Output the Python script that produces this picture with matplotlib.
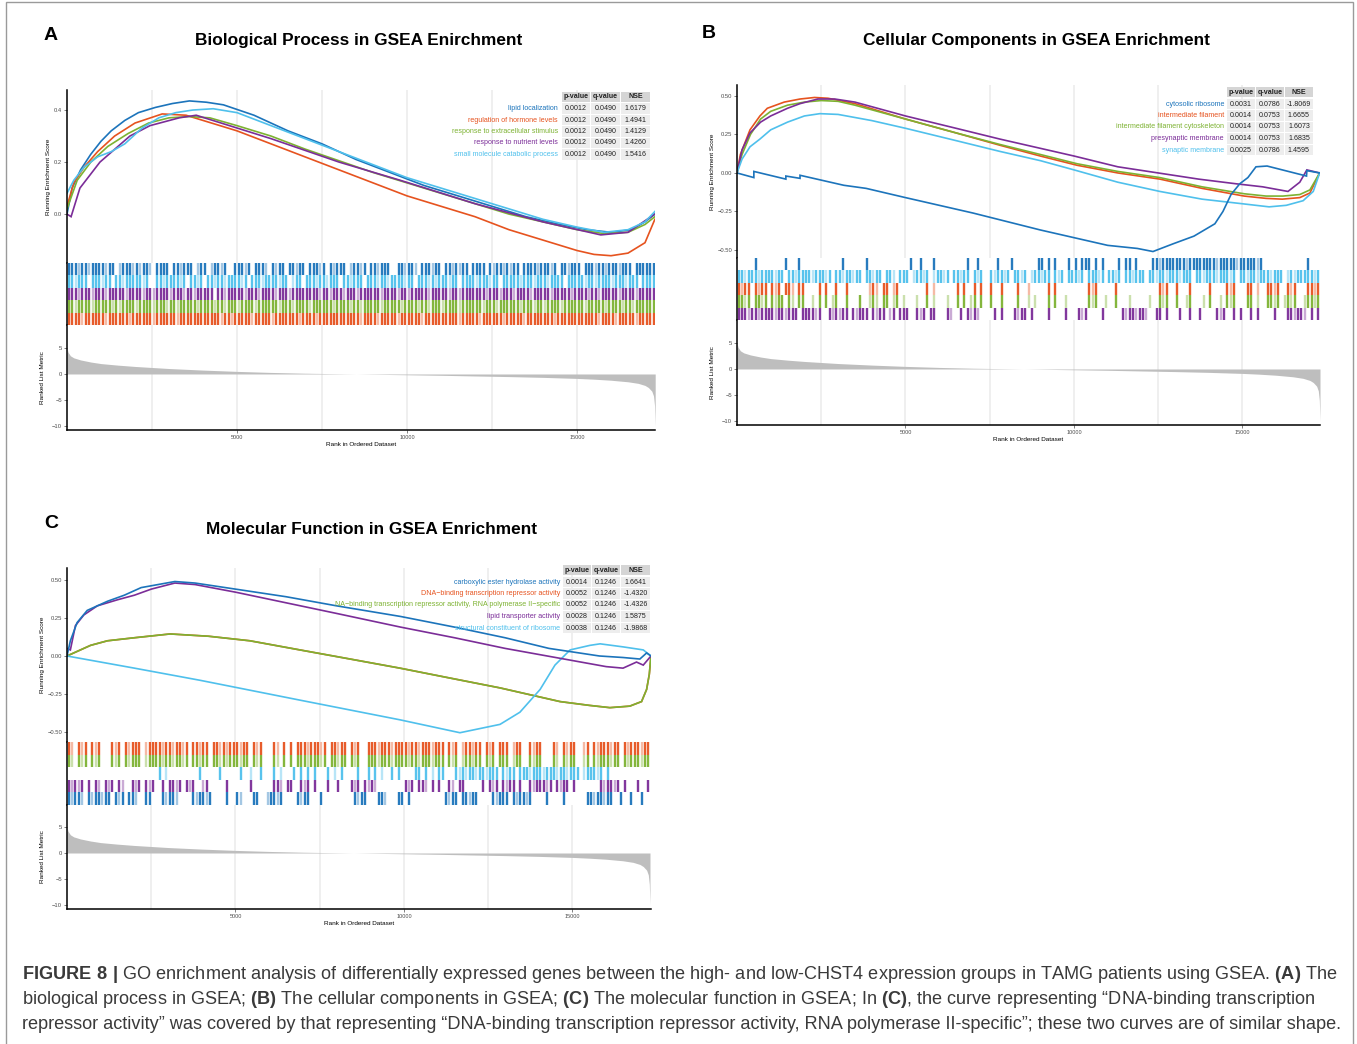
import matplotlib
matplotlib.use("Agg")
import matplotlib.pyplot as plt
from matplotlib.patches import Rectangle
from matplotlib import font_manager

W, H = 1357, 1044
NBIN = 173          # hit strings: one character per 100 ranks ('|' hit, ':' faint hit)
BIN = 100

BLUE, ORANGE, GREEN, PURPLE, LIGHT = "#1c74bb", "#e6531f", "#7db232", "#7b2d98", "#4fc0ec"

# ---------------- ranked list metric (same ranking in all panels)
METRIC_RANK = [0, 30, 100, 200, 400, 700, 1000, 1500, 2000, 2500, 3000, 4000, 5000, 6000,
               7000, 8000, 8500, 9000, 10000, 11000, 12000, 13000, 14000, 15000, 15500,
               16000, 16500, 16800, 17000, 17100, 17200, 17250, 17280, 17300]
METRIC_VAL = [5.0, 4.2, 3.5, 3.1, 2.7, 2.3, 2.0, 1.7, 1.45, 1.25, 1.05, 0.75, 0.5, 0.3,
              0.15, 0.05, 0.0, -0.05, -0.15, -0.25, -0.38, -0.5, -0.65, -0.85, -1.0,
              -1.2, -1.5, -1.8, -2.2, -2.6, -3.3, -4.2, -6.0, -10.0]

# ---------------- panel A : biological process
A_NAMES = ["lipid localization", "regulation of hormone levels",
           "response to extracellular stimulus", "response to nutrient levels",
           "small molecule catabolic process"]
A_COLORS = [BLUE, ORANGE, GREEN, PURPLE, LIGHT]
A_P = [0.0012, 0.0012, 0.0012, 0.0012, 0.0012]
A_Q = [0.0490, 0.0490, 0.0490, 0.0490, 0.0490]
A_NSE = [1.6179, 1.4941, 1.4129, 1.4260, 1.5416]

A_BLUE_X = [0, 150, 400, 700, 1000, 1300, 1700, 2100, 2600, 3100, 3600, 4100, 4600, 5500, 6500,
            7500, 8500, 9500, 10500, 11500, 12500, 13500, 14500, 15300, 16000, 16600, 17000, 17290]
A_BLUE_Y = [0.0, 0.10, 0.17, 0.23, 0.28, 0.32, 0.36, 0.39, 0.41, 0.425, 0.435, 0.43, 0.42, 0.38,
            0.32, 0.27, 0.21, 0.16, 0.11, 0.07, 0.03, -0.01, -0.04, -0.06, -0.07, -0.06, -0.03, 0.0]
A_ORANGE_X = [0, 200, 500, 900, 1400, 2000, 2800, 3500, 5000, 7000, 9000, 10000, 11000, 12000,
              13000, 14000, 15000, 15500, 16000, 16500, 17000, 17290]
A_ORANGE_Y = [0.03, 0.12, 0.18, 0.24, 0.30, 0.35, 0.385, 0.38, 0.32, 0.22, 0.12, 0.07, 0.03,
              -0.01, -0.06, -0.10, -0.14, -0.155, -0.16, -0.15, -0.11, -0.02]
A_GREEN_X = [0, 300, 700, 1200, 1800, 2400, 3000, 3600, 4200, 5000, 6000, 7000, 8000, 9000,
             10000, 11000, 12000, 13000, 14000, 15000, 15800, 16500, 17000, 17290]
A_GREEN_Y = [0.02, 0.13, 0.20, 0.26, 0.31, 0.35, 0.37, 0.375, 0.37, 0.34, 0.30, 0.25, 0.205,
             0.16, 0.12, 0.08, 0.04, 0.0, -0.03, -0.06, -0.075, -0.07, -0.04, -0.01]
A_PURPLE_X = [0, 120, 380, 970, 1850, 2440, 3300, 3800, 6000, 8000, 9800, 12000, 14000, 15700,
              16500, 17290]
A_PURPLE_Y = [0.0, -0.01, 0.10, 0.20, 0.30, 0.34, 0.37, 0.38, 0.29, 0.20, 0.13, 0.04, -0.03,
              -0.08, -0.07, 0.0]
A_LIGHT_X = [0, 200, 500, 900, 1300, 1700, 2200, 2700, 3200, 3700, 4300, 5000, 6000, 7000, 8000,
             9000, 10000, 11000, 12000, 13000, 14000, 15000, 15800, 16500, 17000, 17290]
A_LIGHT_Y = [0.08, 0.13, 0.18, 0.22, 0.24, 0.27, 0.33, 0.37, 0.39, 0.40, 0.405, 0.39, 0.34, 0.29,
             0.24, 0.19, 0.14, 0.10, 0.06, 0.02, -0.02, -0.05, -0.07, -0.06, -0.03, 0.01]

A_HITS_BLUE = ("|||:||:||| |:||.:|||: |:||:.|||| .||:|||.:| |.:||:|..| ||:|.|||:. |:||.||:|| "
               ".|||:|.|:| ||.:||:|.| |:|||..||: ||:.|||:|| .||:|:||.| |||.|:||:| :||.||||:| "
               "||:|.||:|| |.|||:||:| ||:|||.||| |||")
A_HITS_LIGHT = ("||:|||.||| :||.||:||| ||:|..||:| |||:|.||:| .||:||:||| |:|.|||:|| ||:||.:||. "
                "|||:||:||| .||:|||.|| |:||:||||: ||.|||:|:| ||:||.|||| :|||:||.|| |||:|||:|| "
                "|:||||.||| ||:||:|||| :|||:|||.| |||")
A_HITS_PURPLE = ("|||:|||:|| |:|||||:|| ||:||:|||| :|||:||:|| |||.||:||| ||:|||:||| |:|||:|||| "
                 "||||:||:|| |:|||:|||| ||:||||:|| :|||||:||| ||:||:|||| |||:|||:|| |:||||:||| "
                 "||:|||||:| |||:||:||| ||:||||:|| |||")
A_HITS_GREEN = ("||:||||:|| |||:|:|||| :||||:|||: ||:|||||:| |||:||:||| :||||:|||| ||:|||:||| "
                "|:||||||:| |||:||:||| ||:|||||:| |||:||:||| :||||:|||| ||:|||:||| |||:|||:|| "
                ":||||:|||| ||:|||||:| |||:||:||| |||")
A_HITS_ORANGE = ("||||:||||| |:||||||:| |||||:|||| ||:||||||| |||||:||:| ||||:||||| :|||||||:| "
                 "|||:|||||| ||||||:||| |:|||||:|| ||||:||||| |||||:|||| |:||||||:| ||||:||||| "
                 "|||:|||||| ||||||:||| |:|||||:|| |||")

# ---------------- panel B : cellular components
B_NAMES = ["cytosolic ribosome", "intermediate filament", "intermediate filament cytoskeleton",
           "presynaptic membrane", "synaptic membrane"]
B_COLORS = [BLUE, ORANGE, GREEN, PURPLE, LIGHT]
B_P = [0.0031, 0.0014, 0.0014, 0.0014, 0.0025]
B_Q = [0.0786, 0.0753, 0.0753, 0.0753, 0.0786]
B_NSE = [-1.8069, 1.6655, 1.6073, 1.6835, 1.4595]

B_BLUE_X = [0, 500, 500, 1450, 1450, 1870, 1870, 3170, 3830, 5000, 7000, 9000, 10000, 11000,
            11880, 12344, 12940, 13560, 14180, 14420, 14660, 14920, 15160, 15400, 15730, 16900,
            16910, 17290]
B_BLUE_Y = [0.0, -0.03, 0.01, -0.04, -0.02, -0.035, -0.015, -0.08, -0.10, -0.16, -0.26, -0.37,
            -0.42, -0.47, -0.49, -0.51, -0.46, -0.41, -0.33, -0.25, -0.14, -0.07, -0.03, 0.04,
            0.045, -0.02, 0.015, 0.0]
B_ORANGE_X = [0, 100, 386, 680, 900, 1400, 1870, 2300, 2700, 3500, 5000, 6500, 7800, 9000,
              10090, 11300, 12550, 13800, 15050, 15700, 16180, 16700, 17000, 17290]
B_ORANGE_Y = [0.0, 0.12, 0.28, 0.37, 0.42, 0.46, 0.48, 0.49, 0.485, 0.45, 0.35, 0.26, 0.18, 0.11,
              0.05, 0.0, -0.04, -0.10, -0.15, -0.165, -0.17, -0.16, -0.13, 0.0]
B_GREEN_X = [0, 150, 400, 700, 1000, 1500, 2000, 2500, 3000, 3500, 5000, 6500, 7800, 9000,
             10090, 11300, 12550, 13800, 15050, 15700, 16200, 16700, 17000, 17290]
B_GREEN_Y = [0.0, 0.12, 0.25, 0.35, 0.40, 0.44, 0.46, 0.47, 0.465, 0.44, 0.35, 0.26, 0.185, 0.12,
             0.06, 0.01, -0.03, -0.09, -0.135, -0.15, -0.15, -0.14, -0.11, 0.0]
B_PURPLE_X = [0, 150, 386, 700, 1000, 1500, 1870, 2400, 2900, 3500, 5000, 6500, 7800, 9000,
              10000, 11300, 12500, 13700, 14800, 15600, 16350, 16700, 16910, 17100, 17290]
B_PURPLE_Y = [0.0, 0.15, 0.26, 0.33, 0.37, 0.42, 0.45, 0.48, 0.48, 0.46, 0.37, 0.29, 0.22, 0.16,
              0.11, 0.04, 0.0, -0.04, -0.07, -0.09, -0.12, -0.06, 0.02, 0.01, 0.0]
B_LIGHT_X = [0, 150, 386, 680, 1000, 1500, 2000, 2460, 3000, 4000, 5000, 6500, 7800, 9000,
             10000, 11300, 12550, 13800, 15000, 15790, 16300, 16800, 17100, 17290]
B_LIGHT_Y = [0.0, 0.09, 0.17, 0.22, 0.28, 0.33, 0.37, 0.385, 0.38, 0.34, 0.29, 0.21, 0.14, 0.08,
             0.02, -0.06, -0.12, -0.17, -0.20, -0.22, -0.21, -0.18, -0.12, 0.0]

B_HITS_BLUE = (".....|.... ....|...|. .......... .|......|. .......... .|..|...|. ........|. "
               ".|.....|.. .|.......| |.|.|...|. |.|||.|.|. ...|.||.|. ...||:|||| |||:|||||| "
               "||:|||||:| ||||:|.... .........| ...")
B_HITS_LIGHT = ("||:|||:||| |:||.||:|| ||:|||:|.| |:||:||.|| :||.||:.|| |.:||:|.:| |:|.||:||. "
                "|:|..|:||: |.||:|.:|| :||.|:|.|| |:|.|||:|. ||:|.||:|| |.||:||:|| |:|||.||:| "
                "||:|||:|.| |:||:|||:| ||.:|:|||| |:|")
B_HITS_ORANGE = ("|:||.|:||. |:|.||:.|| ....|.|..| ..|......: |:.||.:|.. ......|.:. .....|.|.. "
                 "|.|..|..|. ...|..:... ..|.|..... ....|:|... ..|....... .....|:|.. |...|..... "
                 "|....|:|.. .||.:..||: |..|:|...| |:|")
B_HITS_GREEN = ("||:|.||:|. |:||.|:.|| ..:.|.|.:| ..|...|..: |:.||.:|.: ...:..|.:. ..:..|.|.: "
                "|.|..|..|. ...|..:.:. ..|.|..:.. ....|:|..: ..|...:... ..:..|:|.. |..:|...:. "
                "|..:.|:|.. .||.:..||: |.:|:|..:| |:|")
B_HITS_PURPLE = ("|||:||:||| |:||:|||.| |||:|..|:| :||.|:|||. |:||.:|.|| |..|:|.||. ..|:..|.|: "
                 "|:....|.|. ..|:||.|.. ..|....|.. .|:|....|. ....|:||:| |:..||.|.. .|..|..|.. "
                 "..|:|..|.| ..|.|....| ...||:||:. |.|")

# ---------------- panel C : molecular function
C_NAMES = ["carboxylic ester hydrolase activity", "DNA\u2212binding transcription repressor activity",
           "NA\u2212binding transcription repressor activity, RNA polymerase II\u2212specific",
           "lipid transporter activity", "structural constituent of ribosome"]
C_COLORS = [BLUE, ORANGE, GREEN, PURPLE, LIGHT]
C_P = [0.0014, 0.0052, 0.0052, 0.0028, 0.0038]
C_Q = [0.1246, 0.1246, 0.1246, 0.1246, 0.1246]
C_NSE = [1.6641, -1.4320, -1.4326, 1.5875, -1.9868]

C_BLUE_X = [0, 100, 300, 600, 1200, 1700, 2200, 2700, 3200, 3800, 5000, 6500, 8000, 9900, 11500,
            13000, 14300, 15200, 15800, 16500, 17000, 17200, 17329]
C_BLUE_Y = [0.0, 0.10, 0.22, 0.30, 0.36, 0.40, 0.45, 0.47, 0.49, 0.48, 0.44, 0.39, 0.33, 0.26,
            0.19, 0.12, 0.05, 0.02, 0.0, -0.01, -0.02, 0.02, 0.0]
C_DNA_X = [0, 300, 700, 1200, 2000, 3060, 4200, 5430, 6910, 8400, 9880, 11360, 12850, 14630,
           15500, 16110, 16700, 17050, 17200, 17280, 17329]
C_DNA_Y = [0.0, 0.03, 0.07, 0.10, 0.12, 0.145, 0.13, 0.10, 0.04, -0.02, -0.08, -0.145, -0.21,
           -0.30, -0.325, -0.34, -0.33, -0.30, -0.22, -0.12, 0.0]
C_GREEN_X = [0, 300, 700, 1200, 2000, 3060, 4200, 5430, 6910, 8400, 9880, 11360, 12850, 14630,
             15500, 16110, 16700, 17050, 17200, 17280, 17329]
C_GREEN_Y = [0.0, 0.03, 0.07, 0.10, 0.12, 0.145, 0.13, 0.10, 0.04, -0.02, -0.08, -0.145, -0.21,
             -0.30, -0.325, -0.34, -0.33, -0.30, -0.22, -0.12, 0.0]
C_PURPLE_X = [0, 100, 250, 500, 900, 1500, 2000, 2500, 3200, 3800, 5000, 6500, 8000, 9900, 11500,
              13000, 14500, 15500, 16000, 16500, 16900, 17100, 17329]
C_PURPLE_Y = [0.05, 0.04, 0.20, 0.27, 0.33, 0.37, 0.40, 0.44, 0.48, 0.47, 0.42, 0.35, 0.28, 0.19,
              0.12, 0.05, -0.01, -0.05, -0.07, -0.08, -0.04, -0.06, 0.0]
C_LIGHT_X = [0, 2000, 3950, 6900, 9880, 11660, 12850, 13440, 14040, 14480, 14930, 15520, 15820,
             16500, 17100, 17329]
C_LIGHT_Y = [0.0, -0.08, -0.16, -0.29, -0.42, -0.505, -0.45, -0.37, -0.22, -0.06, 0.04, 0.07,
             0.08, 0.06, 0.04, 0.0]

C_HITS_ORANGE = ("|:.|:|.|:| ...|:|.|:| ||.:||||:| |:||:|.||: ||.||:|:|| |:||.|:|.. .|:.|.|.|| "
                 "|:|||:|.|| :||.|:|..| ||:|||:||| |:||:|||:| ||.|:|.:|| :||.|:|.|| |.:||..|:| "
                 "|...|:.|:| |..:|.|:|| |:||.|:||| :||")
C_HITS_GREEN = C_HITS_ORANGE
C_HITS_LIGHT = (".......... .......... .......|.: .........| .....|.... .|..:..|.. .|.:...|.| "
                ".|.|...|.: .|....|..| .|.:..|.|. ...||.|.:. ||...|:|:| |:||:|||.| :||.|||:|| "
                "|:|||:||:| ||.:|||:|. |......... ...")
C_HITS_PURPLE = ("|:|:|.|.|: .|:|.|:..| :|.|:|..|. ||:|.|:|.. :|.....|.. ....|..... .||:.||..| "
                 ":|.|...|.. |...|:|.|: |:........ |:|.||:.|. |..|:.||.. ...|.|:|.| :||.|..|:| "
                 "||:|.|:||. |.......|: ||:|.|...| ..|")
C_HITS_BLUE = ("|:||:.|:|| :||.|:|.|| :..||...|: ||:....|:| |:|....|.. |:...||..: ||:|....|: "
               "||...|.... .....|:||. ..||:...|| .|........ ..|:||.||: ||....|:|| |.|:||:|.. "
               "..|....|.. ....||:||: ||..|..|.. |..")

CAPTION = [
    r"$\mathbf{FIGURE\ 8\ |}$ GO enrichment analysis of differentially expressed genes between the "
    r"high- and low-CHST4 expression groups in TAMG patients using GSEA. $\mathbf{(A)}$ The",
    r"biological process in GSEA; $\mathbf{(B)}$ The cellular components in GSEA; $\mathbf{(C)}$ "
    r"The molecular function in GSEA; In $\mathbf{(C)}$, the curve representing "
    "\u201cDNA-binding transcription",
    "repressor activity\u201d was covered by that representing \u201cDNA-binding transcription "
    "repressor activity, RNA polymerase II-specific\u201d; these two curves are of similar shape.",
]

names = {f.name for f in font_manager.fontManager.ttflist}
CAP_FONT = "Liberation Sans Narrow" if "Liberation Sans Narrow" in names else "Liberation Sans"
plt.rcParams["font.family"] = ["Liberation Sans", "DejaVu Sans"]
plt.rcParams["mathtext.fontset"] = "custom"
plt.rcParams["mathtext.rm"] = CAP_FONT
plt.rcParams["mathtext.bf"] = CAP_FONT + ":bold"

fig = plt.figure(figsize=(W / 100, H / 100), dpi=100)


def add_ax(x0, y0, x1, y1):
    return fig.add_axes([x0 / W, 1 - y1 / H, (x1 - x0) / W, (y1 - y0) / H])


def ftext(x, y, s, **kw):
    return fig.text(x / W, 1 - y / H, s, **kw)


def frect(x0, y0, w, h, color):
    fig.patches.append(Rectangle((x0 / W, 1 - (y0 + h) / H), w / W, h / H,
                                 transform=fig.transFigure, facecolor=color, edgecolor="none"))


def hit_positions(pattern, mark):
    s = "".join(pattern.split()).ljust(NBIN, ".")[:NBIN]
    return [i * BIN + BIN / 2 for i, c in enumerate(s) if c == mark]


def base_style(ax, xmax):
    ax.set_xlim(0, xmax)
    for side in ("top", "right", "bottom"):
        ax.spines[side].set_visible(False)
    ax.spines["left"].set_linewidth(1.1)
    ax.tick_params(axis="y", labelsize=4.2, labelcolor="#4d4d4d", color="#4d4d4d",
                   length=2, width=0.5, pad=1.5)
    ax.set_xticks([5000, 10000, 15000])
    ax.set_xticks([2500, 7500, 12500], minor=True)
    ax.grid(axis="x", which="both", color="#ebebeb", lw=1.1)
    ax.set_axisbelow(True)
    ax.tick_params(axis="x", which="both", bottom=False, labelbottom=False)


def gsea_panel(x0, x1, ys, xmax, res_ylim, res_ticks, res_fmt, curves, rows, met_ylim):
    y_res, y_hit, y_met, y_bot = ys
    ax = add_ax(x0, y_res, x1, y_hit)
    base_style(ax, xmax)
    for xs, vals, col in curves:
        ax.plot(xs, vals, color=col, lw=1.2, solid_joinstyle="miter")
    ax.set_ylim(*res_ylim)
    ax.set_yticks(res_ticks)
    ax.set_yticklabels([res_fmt.format(t).replace("-", "\u2212") for t in res_ticks])
    ax.set_ylabel("Running Enrichment Score", fontsize=4.6, labelpad=2)

    axh = add_ax(x0, y_hit, x1, y_met)
    axh.set_xlim(0, xmax)
    for side in ("top", "right", "bottom"):
        axh.spines[side].set_visible(False)
    axh.spines["left"].set_linewidth(1.1)
    axh.set_xticks([])
    axh.set_yticks([])
    for i, (pattern, col) in enumerate(rows):
        axh.vlines(hit_positions(pattern, "|"), i, i + 1, color=col, lw=1.7, alpha=0.95)
        axh.vlines(hit_positions(pattern, ":"), i, i + 1, color=col, lw=1.7, alpha=0.4)
    axh.set_ylim(len(rows), 0)

    axm = add_ax(x0, y_met, x1, y_bot)
    base_style(axm, xmax)
    axm.spines["bottom"].set_visible(True)
    axm.spines["bottom"].set_linewidth(1.1)
    axm.fill_between(METRIC_RANK, 0, METRIC_VAL, color="#bebebe", lw=0)
    axm.set_ylim(*met_ylim)
    axm.set_yticks([-10, -5, 0, 5])
    axm.set_yticklabels(["\u221210", "\u22125", "0", "5"])
    axm.tick_params(axis="x", which="major", bottom=True, labelbottom=True, labelsize=4.0,
                    labelcolor="#4d4d4d", color="#4d4d4d", length=2, width=0.5, pad=1.5)
    axm.set_xlabel("Rank in Ordered Dataset", fontsize=4.6, labelpad=1.5)
    axm.set_ylabel("Ranked List Metric", fontsize=4.6, labelpad=5)


def draw_table(xr, cols, yh, ys, names_, colors, pv, qv, nse):
    cw, ch = 28.5, 10.5
    for cx, head in zip(cols, ["p-value", "q-value", "NSE"]):
        frect(cx - cw / 2, yh - ch / 2, cw, ch, "#d5d5d5")
        ftext(cx, yh, head, ha="center", va="center", fontsize=5.1, fontweight="bold",
              color="#222222")
    for y, n, c, p, q, e in zip(ys, names_, colors, pv, qv, nse):
        ftext(xr, y, n, ha="right", va="center", fontsize=5.1, color=c)
        for cx, v in zip(cols, [p, q, e]):
            frect(cx - cw / 2, y - ch / 2, cw, ch, "#ededed")
            ftext(cx, y, f"{v:.4f}", ha="center", va="center", fontsize=5.1, color="#222222")


# ---- panel A
gsea_panel(67, 655, (90, 263, 325, 430), 17294, (-0.188, 0.477), [0.0, 0.2, 0.4], "{:.1f}",
           [(A_BLUE_X, A_BLUE_Y, BLUE), (A_ORANGE_X, A_ORANGE_Y, ORANGE),
            (A_GREEN_X, A_GREEN_Y, GREEN), (A_PURPLE_X, A_PURPLE_Y, PURPLE),
            (A_LIGHT_X, A_LIGHT_Y, LIGHT)],
           [(A_HITS_BLUE, BLUE), (A_HITS_LIGHT, LIGHT), (A_HITS_PURPLE, PURPLE),
            (A_HITS_GREEN, GREEN), (A_HITS_ORANGE, ORANGE)],
           (-10.77, 9.42))
draw_table(558, [576, 605.5, 635.5], 97, [108.5, 120, 131.5, 143, 154.5],
           A_NAMES, A_COLORS, A_P, A_Q, A_NSE)

# ---- panel B
gsea_panel(737, 1320, (85, 258, 320, 425), 17300, (-0.552, 0.571),
           [-0.5, -0.25, 0.0, 0.25, 0.5], "{:.2f}",
           [(B_ORANGE_X, B_ORANGE_Y, ORANGE), (B_GREEN_X, B_GREEN_Y, GREEN),
            (B_PURPLE_X, B_PURPLE_Y, PURPLE), (B_LIGHT_X, B_LIGHT_Y, LIGHT),
            (B_BLUE_X, B_BLUE_Y, BLUE)],
           [(B_HITS_BLUE, BLUE), (B_HITS_LIGHT, LIGHT), (B_HITS_ORANGE, ORANGE),
            (B_HITS_GREEN, GREEN), (B_HITS_PURPLE, PURPLE)],
           (-10.77, 9.42))
draw_table(1224, [1241, 1270, 1299], 92, [104, 115.5, 127, 138.5, 150],
           B_NAMES, B_COLORS, B_P, B_Q, B_NSE)

# ---- panel C
gsea_panel(67, 651, (568, 742, 805, 909), 17330, (-0.566, 0.579),
           [-0.5, -0.25, 0.0, 0.25, 0.5], "{:.2f}",
           [(C_DNA_X, C_DNA_Y, ORANGE), (C_GREEN_X, C_GREEN_Y, GREEN),
            (C_LIGHT_X, C_LIGHT_Y, LIGHT), (C_PURPLE_X, C_PURPLE_Y, PURPLE),
            (C_BLUE_X, C_BLUE_Y, BLUE)],
           [(C_HITS_ORANGE, ORANGE), (C_HITS_GREEN, GREEN), (C_HITS_LIGHT, LIGHT),
            (C_HITS_PURPLE, PURPLE), (C_HITS_BLUE, BLUE)],
           (-10.77, 9.23))
draw_table(560, [577, 606, 635.5], 570, [582, 593.5, 605, 616.5, 628],
           C_NAMES, C_COLORS, C_P, C_Q, C_NSE)

# ---- titles and panel letters
ftext(51, 35, "A", ha="center", va="center", fontsize=14, fontweight="bold")
ftext(709, 34, "B", ha="center", va="center", fontsize=14, fontweight="bold")
ftext(51, 523, "C", ha="center", va="center", fontsize=14, fontweight="bold")
ftext(359, 41, "Biological Process in GSEA Enirchment", ha="center", va="center",
      fontsize=12.4, fontweight="bold")
ftext(1036, 41, "Cellular Components in GSEA Enrichment", ha="center", va="center",
      fontsize=12.4, fontweight="bold")
ftext(372, 529, "Molecular Function in GSEA Enrichment", ha="center", va="center",
      fontsize=12.4, fontweight="bold")

# ---- frame and caption
fig.patches.append(Rectangle((6 / W, -0.01), 1347 / W, 1 - 2 / H + 0.01, transform=fig.transFigure,
                             fill=False, edgecolor="#9a9a9a", lw=1.0))
caps = [ftext(22, y, line, fontsize=13, color="#3a3a3a", family=CAP_FONT, va="baseline")
        for y, line in zip([979, 1004, 1029], CAPTION)]
renderer = fig.canvas.get_renderer()
width = caps[0].get_window_extent(renderer).width
for t in caps:
    t.set_fontsize(13 * 1313 / width)

fig.savefig("out.png", dpi=100)
